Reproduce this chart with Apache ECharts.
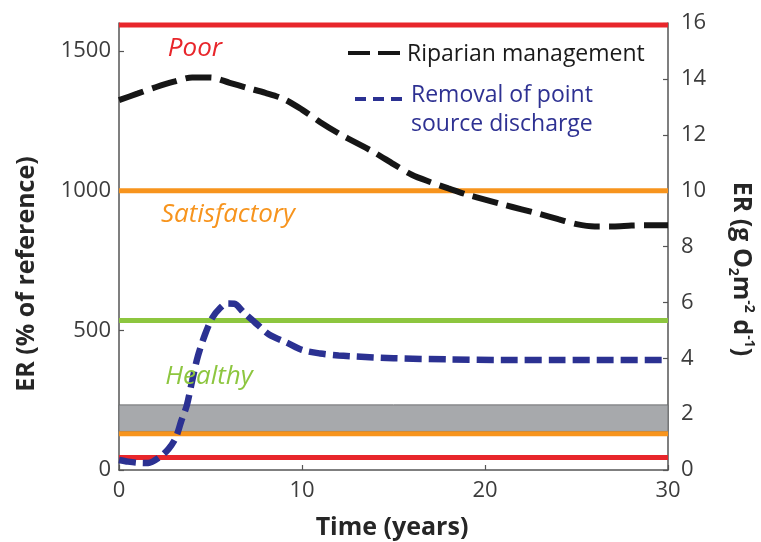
<!DOCTYPE html>
<html>
<head>
<meta charset="utf-8">
<title>ER recovery scenarios</title>
<script src="https://cdn.jsdelivr.net/npm/echarts@6/dist/echarts.min.js"></script>
<style>
  html, body { margin: 0; padding: 0; background: #ffffff; }
  #chart { width: 761px; height: 542px; }
</style>
</head>
<body>
<div id="chart"></div>
<script>
// Time axis (years) and ER scales
const timeTicks = [0, 10, 20, 30];
const erPercentTicks = [0, 500, 1000, 1500];
const erAbsoluteTicks = [0, 2, 4, 6, 8, 10, 12, 14, 16];

// Riparian management scenario, ER in g O2 m-2 d-1
const riparianYears = [0, 1, 2, 3, 4, 5, 6, 7, 8, 9, 10, 11, 12, 13, 14, 15, 16, 17, 18, 19, 20, 21, 22, 23, 24, 25, 26, 27, 28, 29, 30];
const riparianER = [13.24, 13.47, 13.7, 13.9, 14.05, 14.05, 13.87, 13.68, 13.5, 13.28, 12.9, 12.45, 12.05, 11.7, 11.35, 10.95, 10.57, 10.31, 10.08, 9.86, 9.68, 9.5, 9.33, 9.16, 8.98, 8.8, 8.72, 8.72, 8.75, 8.76, 8.76];

// Removal of point source discharge scenario
const removalYears = [0, 0.5, 1, 1.6, 2.2, 2.7, 3.1, 3.4, 3.7, 4.0, 4.3, 4.7, 5.1, 5.5, 5.9, 6.3, 6.8, 7.4, 8.2, 9.2, 10, 11, 12, 13, 15, 18, 21, 24, 27, 30];
const removalER = [0.36, 0.3, 0.26, 0.25, 0.45, 0.75, 1.15, 1.75, 2.3, 3.2, 4.05, 4.85, 5.45, 5.78, 5.96, 5.95, 5.65, 5.3, 4.85, 4.55, 4.3, 4.17, 4.1, 4.06, 4.0, 3.96, 3.94, 3.94, 3.94, 3.94];

// Condition class boundaries (g O2 m-2 d-1)
const boundaryNames = ['Poor (upper)', 'Satisfactory (upper)', 'Healthy (upper)', 'Satisfactory (lower)', 'Poor (lower)'];
const boundaryValues = [15.93, 10, 5.35, 1.3, 0.45];
const referenceBand = [1.38, 2.33];
const classLabels = ['Poor', 'Satisfactory', 'Healthy'];
const legendNames = ['Riparian management', 'Removal of point', 'source discharge'];

const FONT = '"Open Sans", "Noto Sans", sans-serif';
const boundaryColors = ['#e8262b', '#f7941d', '#8dc63f', '#f7941d', '#e8262b'];
const axisColor = '#555555';
const labelColor = '#3c3c3c';

const zip = (xs, ys) => xs.map((x, i) => [x, ys[i]]);
const plainNumber = (v) => String(v);

const chart = echarts.init(document.getElementById('chart'), null, { renderer: 'canvas' });

const boundarySeries = boundaryValues.map((v, i) => ({
  name: boundaryNames[i],
  type: 'line',
  yAxisIndex: 1,
  data: [[timeTicks[0], v], [timeTicks[timeTicks.length - 1], v]],
  symbol: 'none',
  silent: true,
  z: 3,
  lineStyle: { color: boundaryColors[i], width: 5, cap: 'butt' }
}));

const option = {
  backgroundColor: '#ffffff',
  animation: false,
  grid: { left: 119, right: 93, top: 23, bottom: 72, containLabel: false, outerBoundsMode: 'none' },
  xAxis: {
    type: 'value',
    min: 0, max: 30, interval: 10,
    axisLine: { show: true, lineStyle: { color: axisColor, width: 1.5 } },
    axisTick: { show: true, inside: true, length: 5, lineStyle: { color: axisColor, width: 1.2 } },
    axisLabel: { color: labelColor, fontSize: 22, fontFamily: FONT, margin: 10, formatter: plainNumber },
    splitLine: { show: false }
  },
  yAxis: [
    {
      type: 'value',
      position: 'left',
      min: 0, max: 1600,
      axisLine: { show: true, onZero: false, lineStyle: { color: axisColor, width: 1.5 } },
      axisTick: { show: true, inside: true, length: 5, customValues: erPercentTicks, lineStyle: { color: axisColor, width: 1.2 } },
      axisLabel: { customValues: erPercentTicks, color: labelColor, fontSize: 22, fontFamily: FONT, margin: 8, formatter: plainNumber },
      splitLine: { show: false }
    },
    {
      type: 'value',
      position: 'right',
      min: 0, max: 16, interval: 2,
      axisLine: { show: true, onZero: false, lineStyle: { color: axisColor, width: 1.5 } },
      axisTick: { show: true, inside: true, length: 5, lineStyle: { color: axisColor, width: 1.2 } },
      axisLabel: { color: labelColor, fontSize: 22, fontFamily: FONT, margin: 13, formatter: plainNumber },
      splitLine: { show: false }
    }
  ],
  series: [
    {
      name: 'Reference range',
      type: 'line',
      yAxisIndex: 1,
      data: [],
      symbol: 'none',
      silent: true,
      z: 1,
      markArea: {
        silent: true,
        itemStyle: { color: '#a7a9ac', borderColor: '#6d6e71', borderWidth: 1 },
        data: [[{ yAxis: referenceBand[0] }, { yAxis: referenceBand[1] }]]
      }
    },
    ...boundarySeries,
    {
      name: legendNames[0],
      type: 'line',
      yAxisIndex: 1,
      data: zip(riparianYears, riparianER),
      symbol: 'none',
      smooth: 0.3,
      z: 5,
      lineStyle: { color: '#161616', width: 6, type: [26, 9], cap: 'butt' }
    },
    {
      name: legendNames[1] + ' ' + legendNames[2],
      type: 'line',
      yAxisIndex: 1,
      data: zip(removalYears, removalER),
      symbol: 'none',
      smooth: 0.3,
      z: 6,
      lineStyle: { color: '#2b3192', width: 6.5, type: [17, 7], cap: 'butt' }
    }
  ],
  graphic: [
    // condition class labels
    { type: 'text', x: 195, y: 49, z: 10, style: { text: classLabels[0], fill: '#e8262b', font: 'italic 26px ' + FONT, align: 'center', verticalAlign: 'middle' } },
    { type: 'text', x: 228, y: 215, z: 10, style: { text: classLabels[1], fill: '#f7941d', font: 'italic 26px ' + FONT, align: 'center', verticalAlign: 'middle' } },
    { type: 'text', x: 209, y: 377, z: 10, style: { text: classLabels[2], fill: '#8dc63f', font: 'italic 26px ' + FONT, align: 'center', verticalAlign: 'middle' } },
    // legend
    { type: 'line', z: 10, shape: { x1: 348, y1: 53, x2: 405, y2: 53 }, style: { stroke: '#161616', lineWidth: 4, lineDash: [22, 8] } },
    { type: 'text', x: 407, y: 54, z: 10, style: { text: legendNames[0], fill: '#1a1a1a', font: '23px ' + FONT, align: 'left', verticalAlign: 'middle' } },
    { type: 'line', z: 10, shape: { x1: 355, y1: 99, x2: 405, y2: 99 }, style: { stroke: '#2b3192', lineWidth: 4, lineDash: [11, 7] } },
    { type: 'text', x: 411, y: 95, z: 10, style: { text: legendNames[1], fill: '#2e3192', font: '23px ' + FONT, align: 'left', verticalAlign: 'middle' } },
    { type: 'text', x: 411, y: 124, z: 10, style: { text: legendNames[2], fill: '#2e3192', font: '23px ' + FONT, align: 'left', verticalAlign: 'middle' } },
    // axis titles
    { type: 'text', x: 27, y: 274, rotation: Math.PI / 2, z: 10, style: { text: 'ER (% of reference)', fill: '#262626', font: 'bold 25px ' + FONT, align: 'center', verticalAlign: 'middle' } },
    { type: 'text', x: 392, y: 528, z: 10, style: { text: 'Time (years)', fill: '#262626', font: 'bold 25px ' + FONT, align: 'center', verticalAlign: 'middle' } },
    {
      type: 'text', x: 741, y: 269, rotation: -Math.PI / 2, z: 10,
      style: {
        text: '{n|ER (g O}{s|2}{n|m}{p|-2}{n| d}{p|-1}{n|)}',
        align: 'center', verticalAlign: 'middle',
        rich: {
          n: { fill: '#262626', fontSize: 25, fontWeight: 'bold', fontFamily: FONT, lineHeight: 30 },
          s: { fill: '#262626', fontSize: 14, fontWeight: 'bold', fontFamily: FONT, lineHeight: 14, verticalAlign: 'bottom' },
          p: { fill: '#262626', fontSize: 14, fontWeight: 'bold', fontFamily: FONT, lineHeight: 14, verticalAlign: 'top' }
        }
      }
    }
  ]
};

chart.setOption(option);
</script>
</body>
</html>
